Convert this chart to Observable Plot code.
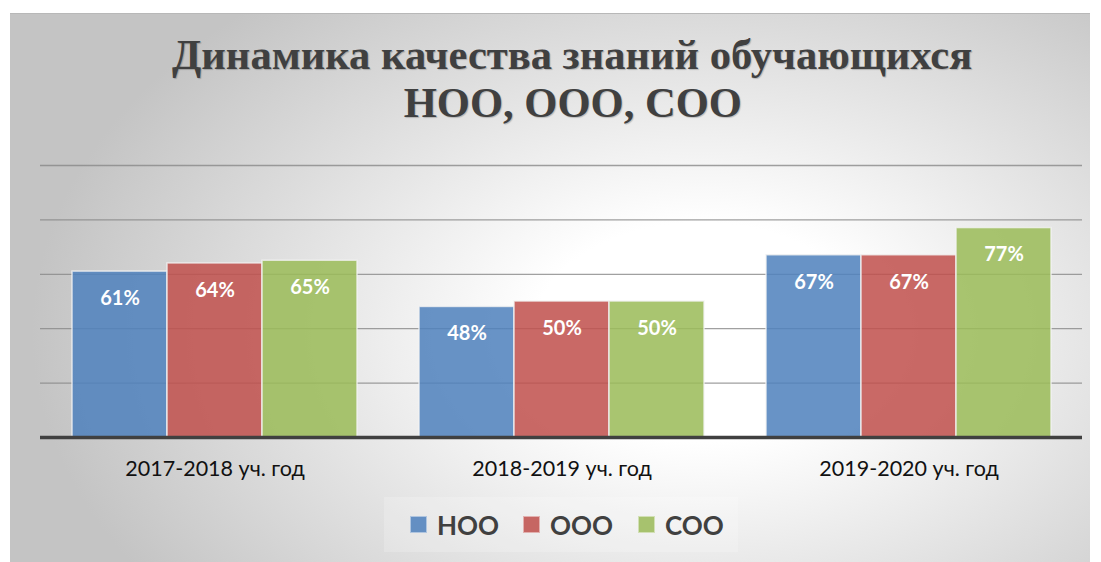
<!DOCTYPE html>
<html><head><meta charset="utf-8">
<script src="https://cdn.jsdelivr.net/npm/d3@7"></script>
<script src="https://cdn.jsdelivr.net/npm/@observablehq/plot@0.6"></script>
<style>
body{margin:0;background:#fff;width:1101px;height:562px;overflow:hidden;position:relative}
#panel{position:absolute;left:10px;top:13px;width:1080px;height:549px;
 background:radial-gradient(ellipse 62% 80% at 64% 58%, #ffffff 25%, #c4c4c4 100%);border-top:1px solid #b8b8b8}
#title{position:absolute;left:22px;top:31px;width:1101px;text-align:center;font-family:'Liberation Serif';font-weight:700;font-size:43px;line-height:48px;color:#404040;text-shadow:1px 1px 1px rgba(0,0,0,0.2)}
#title span{display:inline-block;transform:scaleX(0.99)}
.layer{position:absolute;left:0;top:140px}
#legend{position:absolute;left:384px;top:497px;width:354px;height:55px;background:rgba(255,255,255,0.2)}
.li{position:absolute;top:0;height:55px;display:flex;align-items:center;font-family:Lato,sans-serif;font-weight:bold;font-size:26px;color:#404040}
.sw{width:17px;height:17px;margin-right:10px;box-sizing:border-box;border:1px solid rgba(255,255,255,0.5)}
</style></head>
<body>
<div id="panel"></div>
<div id="title"><span>Динамика качества знаний обучающихся</span><br><span>НОО, ООО, СОО</span></div>
<div id="grid" class="layer"></div>
<div id="chart" class="layer"></div>
<div id="base" class="layer"></div>
<div id="legend"></div>
<script>
const years = ["2017-2018 уч. год", "2018-2019 уч. год", "2019-2020 уч. год"];
const series = ["НОО", "ООО", "СОО"];
const colors = ["#4F81BD", "#C0504D", "#9BBB59"];
const valuesNOO = [61, 48, 67];
const valuesOOO = [64, 50, 67];
const valuesSOO = [65, 50, 77];
const gridTicks = [20, 40, 60, 80, 100];

const allValues = [valuesNOO, valuesOOO, valuesSOO];
const data = [];
years.forEach((y, i) => series.forEach((s, j) => data.push({year: y, series: s, value: allValues[j][i]})));

const common = {
  width: 1101, height: 360, marginLeft: 40, marginRight: 19, marginTop: 25, marginBottom: 63,
  style: {background: "transparent", fontFamily: "Lato, sans-serif", fontSize: "21.5px", color: "#111"}
};
const yScale = {domain: [0, 100], axis: null};

document.getElementById("grid").append(Plot.plot({
  ...common, y: yScale, x: {domain: [0, 1], axis: null},
  marks: [Plot.gridY(gridTicks, {stroke: "#888888", strokeOpacity: 0.8, strokeWidth: 1.3})]
}));

document.getElementById("chart").append(Plot.plot({
  ...common, y: yScale,
  fx: {domain: years, paddingInner: 0.18, paddingOuter: 0.09, label: null, axis: "bottom", tickSize: 0, tickPadding: 23},
  x: {domain: series, padding: 0, axis: null},
  color: {domain: series, range: colors},
  marks: [
    Plot.barY(data, {fx: "year", x: "series", y: "value", fill: "series", fillOpacity: 0.86, stroke: "#f2f2f2", strokeWidth: 1.5, strokeOpacity: 0.8}),
    Plot.text(data, {fx: "year", x: "series", y: "value", text: d => d.value + "%", dy: 27, lineAnchor: "middle", fill: "white", fontWeight: "bold", fontSize: 20})
  ]
}));

document.getElementById("base").append(Plot.plot({
  ...common, y: yScale, x: {domain: [0, 1], axis: null},
  marks: [Plot.ruleY([0], {stroke: "#404040", strokeWidth: 3.5})]
}));

const legendPos = [26, 139, 254];
const legend = document.getElementById("legend");
series.forEach((s, i) => {
  const item = document.createElement("div");
  item.className = "li";
  item.style.left = legendPos[i] + "px";
  const sw = document.createElement("div");
  sw.className = "sw";
  sw.style.background = colors[i];
  sw.style.opacity = 0.86;
  item.append(sw, document.createTextNode(s));
  legend.append(item);
});
</script>
</body></html>
